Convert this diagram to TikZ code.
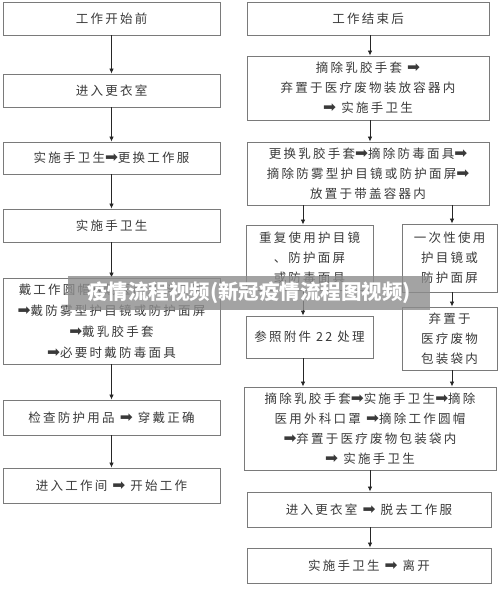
\documentclass[tikz,border=0pt]{standalone}
\usepackage{fontspec}
\usetikzlibrary{arrows.meta}
\setmainfont{Noto Sans CJK SC}[LetterSpace=18]
\newfontfamily\wmfont{Noto Sans CJK SC}
\newfontfamily\arrfont{DejaVu Sans}
\newcommand{\ar}{{\arrfont\fontsize{15.5}{15.5}\selectfont\char"27A1}}
\definecolor{txt}{HTML}{3A3A3A}
\definecolor{brd}{HTML}{7A7A7A}
\tikzset{
  box/.style={draw=brd, line width=0.9pt, fill=white, text=txt, align=center,
    font=\fontsize{12.5}{20}\selectfont, inner sep=0pt},
  arr/.style={draw=black!85, line width=0.8pt, -{Latex[length=5pt,width=4.5pt]}},
}
\newcommand{\bx}[6]{% name, x1, y1, x2, y2, text
  \node[box, minimum width={#4-#2}, minimum height={#5-#3}] (#1) at ({(#2+#4)/2},{(#3+#5)/2}) {#6};}
\begin{document}
\begin{tikzpicture}[x=1pt,y=-1pt]
\useasboundingbox (0,0) rectangle (500,592);
% left column
\bx{L1}{3}{2}{220}{35}{工作开始前}
\bx{L2}{3}{74}{220}{107}{进入更衣室}
\bx{L3}{3}{142}{220}{174}{实施手卫生\ar 更换工作服}
\bx{L4}{3}{209}{220}{242}{实施手卫生}
\bx{L5}{3}{278}{220}{364}{戴工作圆帽\ar 戴医用外科口罩\\[1pt]\ar 戴防雾型护目镜或防护面屏\\[1pt]\ar 戴乳胶手套\\[1pt]\ar 必要时戴防毒面具}
\bx{L6}{3}{400}{220}{435}{检查防护用品 \ar{} 穿戴正确}
\bx{L7}{3}{468}{220}{503}{进入工作间 \ar{} 开始工作}
\foreach \a/\b in {L1/L2,L2/L3,L3/L4,L4/L5,L5/L6,L6/L7}
  \draw[arr] (\a) -- (\b);
% right column
\bx{R1}{247}{2}{489}{35}{工作结束后}
\bx{R2}{247}{56}{489}{120}{摘除乳胶手套 \ar\\弃置于医疗废物装放容器内\\\ar{} 实施手卫生}
\bx{R3}{247}{142}{489}{205}{更换乳胶手套\ar 摘除防毒面具\ar\\摘除防雾型护目镜或防护面屏\ar\\放置于带盖容器内}
\bx{R4a}{246}{225}{373}{290}{重复使用护目镜\\、防护面屏\\或防毒面具}
\bx{R4b}{402}{224}{497}{292}{一次性使用\\护目镜或\\防护面屏}
\bx{R5a}{246}{316}{373}{358}{参照附件 22 处理}
\bx{R5b}{402}{307}{497}{370}{弃置于\\医疗废物\\包装袋内}
\bx{R6}{244}{387}{496}{470}{摘除乳胶手套\ar 实施手卫生\ar 摘除\\医用外科口罩 \ar 摘除工作圆帽\\\ar 弃置于医疗废物包装袋内\\\ar{} 实施手卫生}
\bx{R7}{247}{492}{491}{527}{进入更衣室 \ar{} 脱去工作服}
\bx{R8}{247}{548}{491}{583}{实施手卫生 \ar{} 离开}
\coordinate (cx) at (370,0);
\coordinate (ax1) at (303,0);
\coordinate (ax2) at (452,0);
\draw[arr] (R1.south -| cx) -- (R2.north -| cx);
\draw[arr] (R2.south -| cx) -- (R3.north -| cx);
\draw[arr] (R3.south -| ax1) -- (R4a.north -| ax1);
\draw[arr] (R3.south -| ax2) -- (R4b.north -| ax2);
\draw[arr] (R4a.south -| ax1) -- (R5a.north -| ax1);
\draw[arr] (R4b.south -| ax2) -- (R5b.north -| ax2);
\draw[arr] (R5a.south -| ax1) -- (R6.north -| ax1);
\draw[arr] (R5b.south -| ax2) -- (R6.north -| ax2);
\draw[arr] (R6.south -| cx) -- (R7.north -| cx);
\draw[arr] (R7.south -| cx) -- (R8.north -| cx);
% watermark band
\fill[black!45, opacity=0.8] (68,276) rectangle (430,310);
\node[text=white, font=\wmfont\bfseries\fontsize{20.5}{22}\selectfont, inner sep=0pt] (wm) at (249,293) {疫情流程视频(新冠疫情流程图视频)};
\end{tikzpicture}
\end{document}
